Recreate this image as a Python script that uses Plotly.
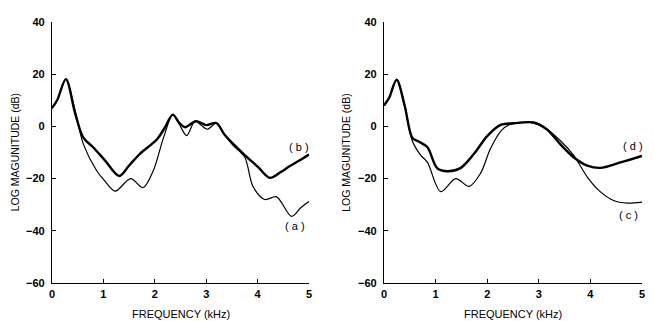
import plotly.graph_objects as go

# ---- data ----
freq_a = [0.0, 0.1, 0.27, 0.45, 0.61, 0.87, 1.03, 1.23, 1.53, 1.77, 1.97, 2.17, 2.35, 2.47, 2.62, 2.78, 2.9, 3.02, 3.19, 3.35, 3.53, 3.75, 3.91, 4.14, 4.37, 4.66, 4.85, 5.0]
mag_a = [7, 10, 18.1, 6, -6.8, -17, -21, -24.8, -20, -23.5, -17, -4.3, 4.5, 1, -3.5, 2, 0.5, -1.1, 1.1, -3, -7.4, -11.8, -23, -28, -27, -34.5, -31, -28.8]

freq_b = [0.0, 0.1, 0.27, 0.45, 0.61, 0.8, 1.03, 1.31, 1.5, 1.71, 2.04, 2.18, 2.35, 2.47, 2.59, 2.8, 3.0, 3.2, 3.35, 3.53, 3.75, 4.01, 4.24, 4.45, 4.62, 4.82, 5.0]
mag_b = [7, 10, 18.1, 5, -4.3, -8, -13, -19, -15, -10.5, -5, -1, 4.5, 1.5, -0.3, 2, 0.5, 1.3, -3, -6.8, -11, -15.6, -19.7, -17.5, -15.3, -13, -10.8]

freq_c = [0.0, 0.1, 0.245, 0.4, 0.55, 0.71, 0.84, 1.1, 1.39, 1.65, 1.87, 2.06, 2.26, 2.45, 2.84, 3.16, 3.42, 3.68, 3.94, 4.19, 4.45, 4.71, 5.0]
mag_c = [8, 11, 17.9, 8, -5.6, -11, -13.7, -25, -20, -23, -18, -8.7, -1.9, 0.8, 1.5, -1.2, -5.5, -11.2, -19.4, -25, -28.4, -29.4, -29]

freq_d = [0.0, 0.1, 0.245, 0.4, 0.55, 0.68, 0.84, 1.03, 1.23, 1.48, 1.74, 2.0, 2.26, 2.52, 2.9, 3.16, 3.42, 3.68, 3.94, 4.19, 4.58, 5.0]
mag_d = [8, 11, 17.9, 8, -4.4, -5.9, -7.9, -16, -17.2, -16, -10.6, -3.7, 0.6, 1.2, 1.5, -1.2, -6.9, -11.9, -15, -15.9, -13.8, -11.3]

x_ticks = [0, 1, 2, 3, 4, 5]
y_ticks = [-60, -40, -20, 0, 20, 40]
labels = ["( a )", "( b )", "( c )", "( d )"]
label_x = [4.73, 4.80, 4.73, 4.82]
label_y = [-38.2, -7.9, -33.8, -7.5]

FONT = "Liberation Sans"

fig = go.Figure()
fig.add_trace(go.Scatter(x=freq_a, y=mag_a, mode="lines", line=dict(color="black", width=1.2, shape="spline", smoothing=0.9), xaxis="x", yaxis="y"))
fig.add_trace(go.Scatter(x=freq_b, y=mag_b, mode="lines", line=dict(color="black", width=2.4, shape="spline", smoothing=0.9), xaxis="x", yaxis="y"))
fig.add_trace(go.Scatter(x=freq_c, y=mag_c, mode="lines", line=dict(color="black", width=1.2, shape="spline", smoothing=0.9), xaxis="x2", yaxis="y2"))
fig.add_trace(go.Scatter(x=freq_d, y=mag_d, mode="lines", line=dict(color="black", width=2.4, shape="spline", smoothing=0.9), xaxis="x2", yaxis="y2"))

tick_font = dict(family=FONT, size=11, color="black", weight="bold")
ax_common = dict(range=[0, 5], tickvals=x_ticks, ticks="inside", ticklen=4, tickwidth=1, tickcolor="black",
                 showline=True, linecolor="black", linewidth=1.2, showgrid=False, zeroline=False,
                 tickfont=tick_font, ticklabelstandoff=1)
ay_common = dict(range=[-60, 40], tickvals=y_ticks, ticks="inside", ticklen=4, tickwidth=1, tickcolor="black",
                 showline=True, linecolor="black", linewidth=1.2, showgrid=False, zeroline=False,
                 tickfont=tick_font, ticklabelstandoff=4)

# page body has an 8px default margin; margins compensate so the plot areas land where the reference has them
fig.update_layout(
    width=654, height=321,
    margin=dict(l=44, r=20, t=8, b=46),
    paper_bgcolor="white", plot_bgcolor="white",
    showlegend=False,
    xaxis=dict(domain=[0, 0.4356], anchor="y", **ax_common),
    yaxis=dict(domain=[0, 1], anchor="x", **ay_common),
    xaxis2=dict(domain=[0.5627, 1], anchor="y2", **ax_common),
    yaxis2=dict(domain=[0, 1], anchor="x2", **ay_common),
)

xt_font = dict(family=FONT, size=11, color="black")
yt_font = dict(family=FONT, size=10.5, color="black")
fig.add_annotation(text="FREQUENCY (kHz)", xref="x domain", yref="paper", x=0.5, y=-0.09, xanchor="center", yanchor="top", showarrow=False, font=xt_font)
fig.add_annotation(text="FREQUENCY (kHz)", xref="x2 domain", yref="paper", x=0.5, y=-0.09, xanchor="center", yanchor="top", showarrow=False, font=xt_font)
fig.add_annotation(text="LOG MAGUNITUDE (dB)", xref="paper", yref="paper", x=-0.063, y=0.5, xanchor="center", yanchor="middle", textangle=-90, showarrow=False, font=yt_font)
fig.add_annotation(text="LOG MAGUNITUDE (dB)", xref="x2 domain", yref="paper", x=-0.15, y=0.5, xanchor="center", yanchor="middle", textangle=-90, showarrow=False, font=yt_font)

lab_font = dict(family=FONT, size=11, color="black")
for i, t in enumerate(labels):
    ax = "x" if i < 2 else "x2"
    ay = "y" if i < 2 else "y2"
    fig.add_annotation(text=t, xref=ax, yref=ay, x=label_x[i], y=label_y[i], xanchor="center", yanchor="middle", showarrow=False, font=lab_font)

fig.write_html("out.html")
